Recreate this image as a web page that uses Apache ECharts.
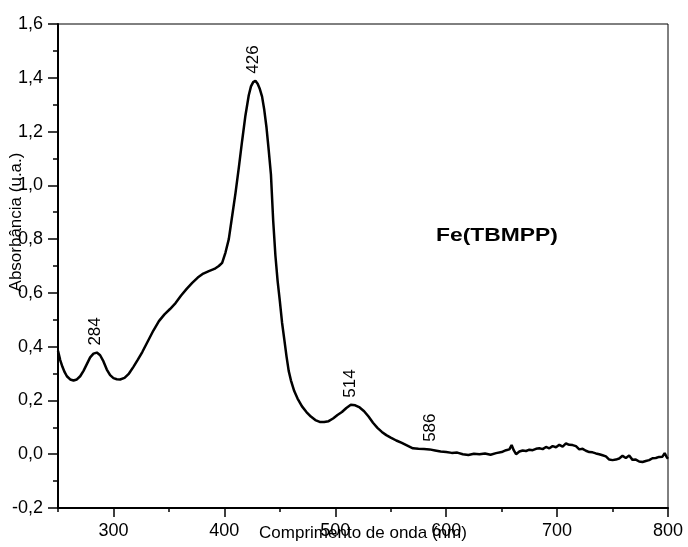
<!DOCTYPE html>
<html><head><meta charset="utf-8">
<script src="https://cdn.jsdelivr.net/npm/echarts@6/dist/echarts.min.js"></script>
<style>html,body{margin:0;padding:0;background:#fff}#c{width:688px;height:547px}</style>
</head><body><div id="c"></div>
<script>
const wavelength=[250,252,254,256,258,261,264,267,270,273,276,279,282,285,288,291,294,297,300,303,306,310,314,318,322,326,331,336,341,346,351,356,361,366,371,376,381,386,391,395,398,401,404,407,410,413,416,419,422,424,426,428,430,432,434,436,438,440,442,444,446,448,450,452,454,456,458,460,463,466,470,474,478,482,486,490,494,498,502,506,510,514,518,522,526,530,534,538,542,546,550,555,560,565,570,575,580,585,590,595,600,605,610,615,620,625,630,635,640,645,650,654,657,659,661,663,666,669,672,675,678,681,684,687,690,693,696,699,702,705,708,711,714,717,720,723,726,729,732,735,738,741,744,747,750,753,756,759,762,765,768,771,774,777,780,783,786,789,792,795,797,799,800];
const absorbance=[0.385,0.35,0.325,0.305,0.29,0.278,0.274,0.278,0.29,0.31,0.335,0.36,0.374,0.378,0.368,0.345,0.315,0.294,0.283,0.279,0.278,0.284,0.3,0.325,0.352,0.38,0.42,0.46,0.495,0.52,0.54,0.562,0.59,0.615,0.637,0.657,0.672,0.681,0.689,0.70,0.712,0.75,0.8,0.885,0.97,1.065,1.165,1.26,1.335,1.368,1.384,1.389,1.378,1.358,1.33,1.28,1.215,1.13,1.04,0.87,0.74,0.645,0.57,0.49,0.428,0.365,0.31,0.275,0.235,0.207,0.178,0.157,0.14,0.127,0.12,0.12,0.123,0.133,0.146,0.157,0.172,0.184,0.182,0.174,0.16,0.14,0.117,0.098,0.083,0.071,0.062,0.051,0.042,0.032,0.022,0.02,0.019,0.018,0.014,0.01,0.008,0.005,0.006,0.0,-0.003,0.002,0.0,0.003,-0.002,0.004,0.008,0.015,0.018,0.034,0.014,0.0,0.01,0.014,0.012,0.017,0.015,0.02,0.022,0.019,0.027,0.022,0.03,0.026,0.035,0.028,0.04,0.035,0.034,0.03,0.018,0.02,0.013,0.008,0.007,0.003,0.0,-0.004,-0.008,-0.02,-0.022,-0.02,-0.016,-0.006,-0.014,-0.005,-0.021,-0.02,-0.027,-0.029,-0.025,-0.022,-0.015,-0.014,-0.01,-0.009,0.004,-0.012,-0.017];
const xMajorTicks=[300,400,500,600,700,800];
const peakLabels=[284,426,514,586];
const peakAbs=[0.378,1.389,0.184,0.02];
const sampleName='Fe(TBMPP)';
const xTitle='Comprimento de onda (nm)';
const yTitle='Absorbância (u.a.)';

const chart=echarts.init(document.getElementById('c'),null,{renderer:'canvas'});
const font='"Liberation Sans", Arial, sans-serif';
chart.setOption({
  animation:false,
  grid:{left:58,right:20,top:24,bottom:39,containLabel:false,outerBoundsMode:'none',
    show:true,borderColor:'#000',borderWidth:1,backgroundColor:'transparent'},
  xAxis:[{
    type:'value',min:250,max:800,interval:50,
    axisLine:{show:true,onZero:false,lineStyle:{color:'#000',width:2}},
    axisTick:{show:true,length:4,lineStyle:{color:'#000',width:1.5}},
    axisLabel:{color:'#000',fontSize:18,fontFamily:font,margin:14,interval:0,
      formatter:v=>(Math.round(v)%100===0?String(Math.round(v)):'')},
    splitLine:{show:false},
    name:xTitle,nameLocation:'middle',nameGap:17,nameMoveOverlap:false,
    nameTextStyle:{color:'#000',fontSize:17,fontFamily:font}
  },{
    type:'value',min:250,max:800,position:'bottom',
    axisLine:{show:false,onZero:false},
    axisTick:{show:true,length:9,customValues:xMajorTicks,lineStyle:{color:'#000',width:1.5}},
    axisLabel:{show:false},splitLine:{show:false}
  }],
  yAxis:{
    type:'value',min:-0.2,max:1.6,interval:0.2,
    axisLine:{show:true,onZero:false,lineStyle:{color:'#000',width:2}},
    axisTick:{show:true,length:10,lineStyle:{color:'#000',width:1.5}},
    minorTick:{show:true,splitNumber:2,length:5,lineStyle:{color:'#000',width:1.5}},
    axisLabel:{color:'#000',fontSize:18,fontFamily:font,margin:15,
      formatter:v=>v.toFixed(1).replace('.',',')},
    splitLine:{show:false},minorSplitLine:{show:false},
    name:yTitle,nameLocation:'middle',nameRotate:90,nameGap:33,nameMoveOverlap:false,
    nameTextStyle:{color:'#000',fontSize:17,fontFamily:font,padding:[0,0,0,88]}
  },
  graphic:[{
    type:'text',x:436,y:236,scaleX:1.27,
    style:{text:sampleName,fontSize:18,fontWeight:'bold',fontFamily:font,fill:'#000',align:'left',verticalAlign:'middle'}
  }],
  series:[{
    type:'line',xAxisIndex:0,showSymbol:false,
    data:wavelength.map((w,i)=>[w,absorbance[i]]),
    lineStyle:{color:'#000',width:2.5},
    markPoint:{
      symbol:'circle',symbolSize:0,silent:true,
      label:{show:true,position:'top',distance:7,rotate:90,align:'left',verticalAlign:'middle',
        color:'#000',fontSize:17,fontFamily:font,formatter:'{c}'},
      data:peakLabels.map((w,i)=>({coord:[w,peakAbs[i]],value:w}))
    }
  }]
});
</script></body></html>
